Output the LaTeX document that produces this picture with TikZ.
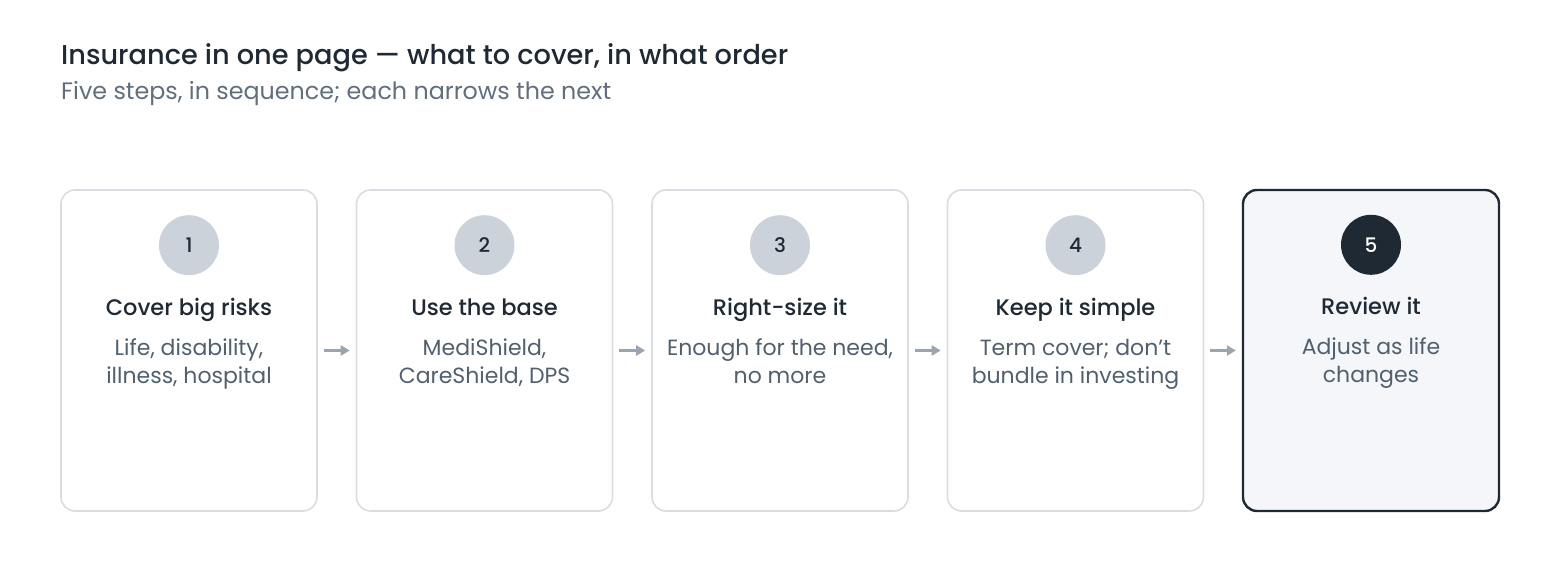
\documentclass[tikz,border=0pt]{standalone}
\usepackage{fontspec}
\setmainfont{Poppins}
\newfontfamily\mediumfont{Poppins Medium}
\usetikzlibrary{positioning,arrows.meta}
\definecolor{inkdark}{HTML}{1F2933}
\definecolor{inkgrey}{HTML}{52606D}
\definecolor{subgrey}{HTML}{616E7C}
\definecolor{boxline}{HTML}{D9DDE2}
\definecolor{dotgrey}{HTML}{CBD2D9}
\definecolor{arrowgrey}{HTML}{9AA5B1}
\definecolor{lastfill}{HTML}{F5F6FA}

\begin{document}
\begin{tikzpicture}[x=1pt, y=1pt,
    stepbox/.style={draw=boxline, line width=1.6pt, rounded corners=14pt,
      minimum width=256pt, minimum height=321pt, fill=white},
    lastbox/.style={stepbox, draw=inkdark, line width=2.4pt, fill=lastfill},
    stepdot/.style={circle, fill=dotgrey, minimum size=60pt, inner sep=0pt,
      text=inkdark, font=\mediumfont\fontsize{20}{20}\selectfont},
    lastdot/.style={stepdot, fill=inkdark, text=white},
    steptitle/.style={text=inkdark, font=\mediumfont\fontsize{22.5}{24}\selectfont},
    stepbody/.style={text=inkgrey, align=center, font=\fontsize{22}{28}\selectfont},
    flow/.style={-{Triangle[length=9pt,width=10pt]}, line width=2.6pt, arrowgrey,
      shorten >=6pt, shorten <=6pt}]
  \useasboundingbox (0,0) rectangle (1560,572);

  % heading
  \node[anchor=base west, inner sep=0pt, text=inkdark, font=\mediumfont\fontsize{27.2}{30}\selectfont]
    (title) at (61,507) {Insurance in one page — what to cover, in what order};
  \node[anchor=base west, inner sep=0pt, text=subgrey, font=\fontsize{23.8}{26}\selectfont]
    (subtitle) at (61,472) {Five steps, in sequence; each narrows the next};

  % the five steps
  \foreach \i/\head/\body in {1/Cover big risks/{Life, disability,\\illness, hospital},
                              2/Use the base/{MediShield,\\CareShield, DPS},
                              3/Right-size it/{Enough for the need,\\no more},
                              4/Keep it simple/{Term cover; don't\\bundle in investing},
                              5/Review it/{Adjust as life\\changes}} {
    \ifnum\i=5
      \node[lastbox] (s\i) at ({189+295.5*(\i-1)},221.5) {};
      \node[lastdot] (n\i) at ([yshift=-56pt]s\i.north) {\i};
    \else
      \node[stepbox] (s\i) at ({189+295.5*(\i-1)},221.5) {};
      \node[stepdot] (n\i) at ([yshift=-56pt]s\i.north) {\i};
    \fi
    \node[steptitle, anchor=base] (h\i) at ([yshift=-126pt]s\i.north) {\head};
    \node[stepbody, anchor=base] (b\i) at ([yshift=-194pt]s\i.north) {\body};
  }

  % arrows between steps
  \foreach \i [count=\j from 2] in {1,...,4}
    \draw[flow] (s\i.east) -- (s\j.west);
\end{tikzpicture}
\end{document}
